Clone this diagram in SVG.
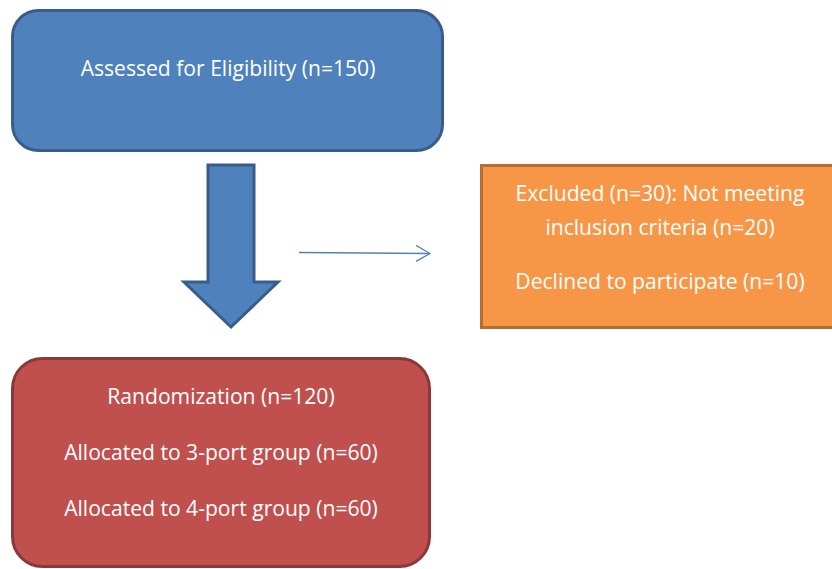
<svg xmlns="http://www.w3.org/2000/svg" width="832" height="569" viewBox="0 0 832 569">
<style>
.t{font-family:"Open Sans","Liberation Sans",Arial,sans-serif;font-size:21.1px;fill:#ffffff;text-anchor:middle}
</style>
<defs>
<marker id="open" viewBox="0 0 16 18" refX="15" refY="9" markerWidth="16" markerHeight="18" markerUnits="userSpaceOnUse" orient="auto">
<path d="M1,1 L15,9 L1,17" fill="none" stroke="#4f81bd" stroke-width="1.2"/>
</marker>
</defs>
<rect width="832" height="569" fill="#ffffff"/>
<g id="assessed">
<rect x="12.5" y="10.5" width="430" height="140" rx="26" ry="26" fill="#4f81bd" stroke="#385d8a" stroke-width="3"/>
<text class="t" x="228" y="76">Assessed for Eligibility (n=150)</text>
</g>
<g id="excluded">
<rect x="481.5" y="165.5" width="360" height="162" fill="#f79646" stroke="#b66d31" stroke-width="3"/>
<text class="t" x="660" y="200.5">Excluded (n=30): Not meeting</text>
<text class="t" x="660" y="235">inclusion criteria (n=20)</text>
<text class="t" x="660" y="289">Declined to participate (n=10)</text>
</g>
<g id="randomization">
<rect x="12.5" y="358.5" width="417" height="208" rx="30" ry="30" fill="#c0504d" stroke="#8c3836" stroke-width="3"/>
<text class="t" x="221" y="404">Randomization (n=120)</text>
<text class="t" x="221" y="460">Allocated to 3-port group (n=60)</text>
<text class="t" x="221" y="516">Allocated to 4-port group (n=60)</text>
</g>
<g id="connectors">
<path d="M208,165 L254,165 L254,282 L278,282 L231,327 L184,282 L208,282 Z" fill="#4f81bd" stroke="#385d8a" stroke-width="3" stroke-linejoin="miter"/>
<line x1="299" y1="252.5" x2="430" y2="253.5" stroke="#4f81bd" stroke-width="1.3" marker-end="url(#open)"/>
</g>
</svg>
